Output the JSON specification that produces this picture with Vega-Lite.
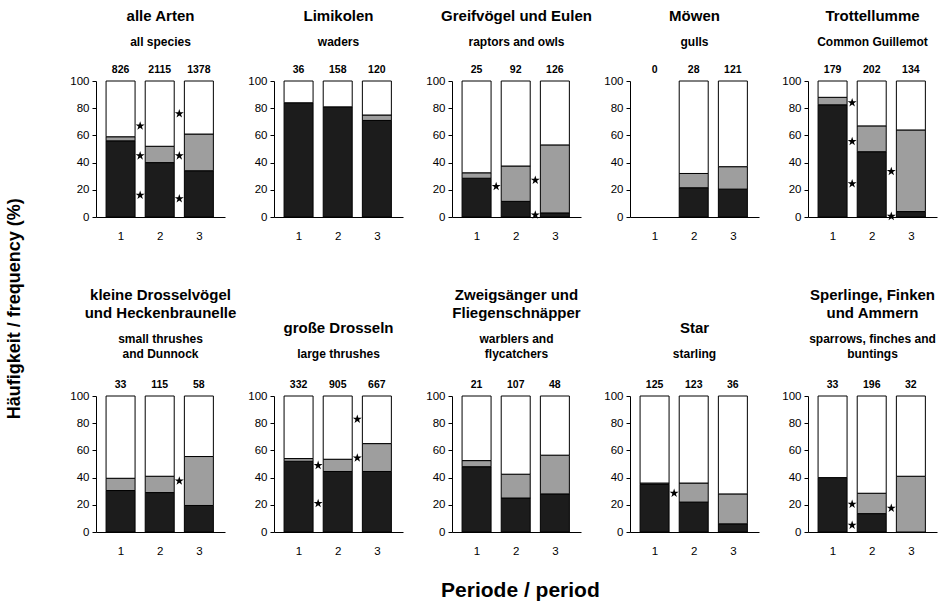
{
"$schema": "https://vega.github.io/schema/vega-lite/v6.json",
"background": "white",
"padding": {"left": 5, "top": 9, "right": 4, "bottom": 4},
"title": {"text": "Häufigkeit / frequency (%)", "orient": "left", "anchor": "middle", "frame": "bounds", "fontSize": 18, "fontWeight": "bold", "font": "Liberation Sans", "color": "black", "offset": 46, "dx": -4},
"datasets": {
"bars": [
{"panel":1,"period":1,"cat":"k1","pct":56},{"panel":1,"period":1,"cat":"k2","pct":3},{"panel":1,"period":1,"cat":"k3","pct":41},
{"panel":1,"period":2,"cat":"k1","pct":40},{"panel":1,"period":2,"cat":"k2","pct":12},{"panel":1,"period":2,"cat":"k3","pct":48},
{"panel":1,"period":3,"cat":"k1","pct":34},{"panel":1,"period":3,"cat":"k2","pct":27},{"panel":1,"period":3,"cat":"k3","pct":39},
{"panel":2,"period":1,"cat":"k1","pct":84},{"panel":2,"period":1,"cat":"k3","pct":16},
{"panel":2,"period":2,"cat":"k1","pct":81},{"panel":2,"period":2,"cat":"k3","pct":19},
{"panel":2,"period":3,"cat":"k1","pct":71},{"panel":2,"period":3,"cat":"k2","pct":4},{"panel":2,"period":3,"cat":"k3","pct":25},
{"panel":3,"period":1,"cat":"k1","pct":28.5},{"panel":3,"period":1,"cat":"k2","pct":4},{"panel":3,"period":1,"cat":"k3","pct":67.5},
{"panel":3,"period":2,"cat":"k1","pct":11.5},{"panel":3,"period":2,"cat":"k2","pct":26},{"panel":3,"period":2,"cat":"k3","pct":62.5},
{"panel":3,"period":3,"cat":"k1","pct":3},{"panel":3,"period":3,"cat":"k2","pct":50},{"panel":3,"period":3,"cat":"k3","pct":47},
{"panel":4,"period":2,"cat":"k1","pct":21.5},{"panel":4,"period":2,"cat":"k2","pct":10.5},{"panel":4,"period":2,"cat":"k3","pct":68},
{"panel":4,"period":3,"cat":"k1","pct":20.5},{"panel":4,"period":3,"cat":"k2","pct":16.5},{"panel":4,"period":3,"cat":"k3","pct":63},
{"panel":5,"period":1,"cat":"k1","pct":82.5},{"panel":5,"period":1,"cat":"k2","pct":5.5},{"panel":5,"period":1,"cat":"k3","pct":12},
{"panel":5,"period":2,"cat":"k1","pct":48},{"panel":5,"period":2,"cat":"k2","pct":19},{"panel":5,"period":2,"cat":"k3","pct":33},
{"panel":5,"period":3,"cat":"k1","pct":4},{"panel":5,"period":3,"cat":"k2","pct":60},{"panel":5,"period":3,"cat":"k3","pct":36},
{"panel":6,"period":1,"cat":"k1","pct":30.5},{"panel":6,"period":1,"cat":"k2","pct":9},{"panel":6,"period":1,"cat":"k3","pct":60.5},
{"panel":6,"period":2,"cat":"k1","pct":29},{"panel":6,"period":2,"cat":"k2","pct":12},{"panel":6,"period":2,"cat":"k3","pct":59},
{"panel":6,"period":3,"cat":"k1","pct":19.5},{"panel":6,"period":3,"cat":"k2","pct":36},{"panel":6,"period":3,"cat":"k3","pct":44.5},
{"panel":7,"period":1,"cat":"k1","pct":52},{"panel":7,"period":1,"cat":"k2","pct":2},{"panel":7,"period":1,"cat":"k3","pct":46},
{"panel":7,"period":2,"cat":"k1","pct":44.5},{"panel":7,"period":2,"cat":"k2","pct":9},{"panel":7,"period":2,"cat":"k3","pct":46.5},
{"panel":7,"period":3,"cat":"k1","pct":44.5},{"panel":7,"period":3,"cat":"k2","pct":20.5},{"panel":7,"period":3,"cat":"k3","pct":35},
{"panel":8,"period":1,"cat":"k1","pct":48},{"panel":8,"period":1,"cat":"k2","pct":4.5},{"panel":8,"period":1,"cat":"k3","pct":47.5},
{"panel":8,"period":2,"cat":"k1","pct":25},{"panel":8,"period":2,"cat":"k2","pct":17.5},{"panel":8,"period":2,"cat":"k3","pct":57.5},
{"panel":8,"period":3,"cat":"k1","pct":28},{"panel":8,"period":3,"cat":"k2","pct":28.5},{"panel":8,"period":3,"cat":"k3","pct":43.5},
{"panel":9,"period":1,"cat":"k1","pct":35},{"panel":9,"period":1,"cat":"k2","pct":1},{"panel":9,"period":1,"cat":"k3","pct":64},
{"panel":9,"period":2,"cat":"k1","pct":22},{"panel":9,"period":2,"cat":"k2","pct":14},{"panel":9,"period":2,"cat":"k3","pct":64},
{"panel":9,"period":3,"cat":"k1","pct":6},{"panel":9,"period":3,"cat":"k2","pct":22},{"panel":9,"period":3,"cat":"k3","pct":72},
{"panel":10,"period":1,"cat":"k1","pct":40},{"panel":10,"period":1,"cat":"k3","pct":60},
{"panel":10,"period":2,"cat":"k1","pct":13.5},{"panel":10,"period":2,"cat":"k2","pct":15},{"panel":10,"period":2,"cat":"k3","pct":71.5},
{"panel":10,"period":3,"cat":"k2","pct":41},{"panel":10,"period":3,"cat":"k3","pct":59}
],
"counts": [
{"panel":1,"period":1,"n":"826"},{"panel":1,"period":2,"n":"2115"},{"panel":1,"period":3,"n":"1378"},
{"panel":2,"period":1,"n":"36"},{"panel":2,"period":2,"n":"158"},{"panel":2,"period":3,"n":"120"},
{"panel":3,"period":1,"n":"25"},{"panel":3,"period":2,"n":"92"},{"panel":3,"period":3,"n":"126"},
{"panel":4,"period":1,"n":"0"},{"panel":4,"period":2,"n":"28"},{"panel":4,"period":3,"n":"121"},
{"panel":5,"period":1,"n":"179"},{"panel":5,"period":2,"n":"202"},{"panel":5,"period":3,"n":"134"},
{"panel":6,"period":1,"n":"33"},{"panel":6,"period":2,"n":"115"},{"panel":6,"period":3,"n":"58"},
{"panel":7,"period":1,"n":"332"},{"panel":7,"period":2,"n":"905"},{"panel":7,"period":3,"n":"667"},
{"panel":8,"period":1,"n":"21"},{"panel":8,"period":2,"n":"107"},{"panel":8,"period":3,"n":"48"},
{"panel":9,"period":1,"n":"125"},{"panel":9,"period":2,"n":"123"},{"panel":9,"period":3,"n":"36"},
{"panel":10,"period":1,"n":"33"},{"panel":10,"period":2,"n":"196"},{"panel":10,"period":3,"n":"32"}
],
"stars": [
{"panel":1,"period":1.5,"pct":67},{"panel":1,"period":1.5,"pct":45},{"panel":1,"period":1.5,"pct":16},
{"panel":1,"period":2.5,"pct":76},{"panel":1,"period":2.5,"pct":45},{"panel":1,"period":2.5,"pct":13.5},
{"panel":3,"period":1.5,"pct":22.5},{"panel":3,"period":2.5,"pct":27},{"panel":3,"period":2.5,"pct":1.5},
{"panel":5,"period":1.5,"pct":84},{"panel":5,"period":1.5,"pct":55.5},{"panel":5,"period":1.5,"pct":24.5},
{"panel":5,"period":2.5,"pct":33.5},{"panel":5,"period":2.5,"pct":0.5},
{"panel":6,"period":2.5,"pct":37.5},
{"panel":7,"period":1.5,"pct":49},{"panel":7,"period":1.5,"pct":21},{"panel":7,"period":2.5,"pct":83},{"panel":7,"period":2.5,"pct":54.5},
{"panel":9,"period":1.5,"pct":28.5},
{"panel":10,"period":1.5,"pct":20.5},{"panel":10,"period":1.5,"pct":5},{"panel":10,"period":2.5,"pct":17.5}
]
},
"vconcat": [
{
"title": {"text": "Periode / period", "orient": "bottom", "anchor": "middle", "frame": "bounds", "fontSize": 21, "fontWeight": "bold", "font": "Liberation Sans", "color": "black", "offset": 23, "dx": 17},
"bounds": "flush",
"spacing": 315,
"vconcat": [
{"hconcat": [
{"width":129,"height":136,"title":{"text":"alle Arten","subtitle":"all species","offset":17},"layer":[
{"data":{"name":"bars"},"transform":[{"filter":"datum.panel == 1"}],"mark":{"type":"bar","width":29,"stroke":"black","strokeWidth":1},"encoding":{"x":{"field":"period","type":"quantitative","title":null,"scale":{"domain":[0.5,3.54],"nice":false,"zero":false},"axis":{"values":[1,2,3],"ticks":false,"labelPadding":13,"format":"d"}},"y":{"field":"pct","type":"quantitative","title":null,"stack":"zero","scale":{"domain":[0,100],"nice":false},"axis":{"values":[0,20,40,60,80,100],"tickCount":6,"tickSize":4,"labelPadding":3,"labelOverlap":false}},"color":{"field":"cat","type":"nominal","scale":{"domain":["k1","k2","k3"],"range":["#1c1c1c","#9e9e9e","#ffffff"]},"legend":null},"order":{"field":"cat","type":"ordinal","sort":"ascending"}}},
{"data":{"name":"counts"},"transform":[{"filter":"datum.panel == 1"}],"mark":{"type":"text","font":"Liberation Sans","fontSize":10.5,"fontWeight":"bold","color":"black","baseline":"alphabetic","dy":-8},"encoding":{"x":{"field":"period","type":"quantitative","title":null},"y":{"datum":100,"type":"quantitative"},"text":{"field":"n","type":"nominal"}}},
{"data":{"name":"stars"},"transform":[{"filter":"datum.panel == 1"}],"mark":{"type":"point","shape":"M0,-1L0.2245,-0.309L0.951,-0.309L0.363,0.118L0.588,0.809L0,0.382L-0.588,0.809L-0.363,0.118L-0.951,-0.309L-0.2245,-0.309Z","filled":true,"color":"black","opacity":1,"size":90},"encoding":{"x":{"field":"period","type":"quantitative","title":null},"y":{"field":"pct","type":"quantitative","title":null}}}
]},
{"width":129,"height":136,"title":{"text":"Limikolen","subtitle":"waders","offset":17},"layer":[
{"data":{"name":"bars"},"transform":[{"filter":"datum.panel == 2"}],"mark":{"type":"bar","width":29,"stroke":"black","strokeWidth":1},"encoding":{"x":{"field":"period","type":"quantitative","title":null,"scale":{"domain":[0.5,3.54],"nice":false,"zero":false},"axis":{"values":[1,2,3],"ticks":false,"labelPadding":13,"format":"d"}},"y":{"field":"pct","type":"quantitative","title":null,"stack":"zero","scale":{"domain":[0,100],"nice":false},"axis":{"values":[0,20,40,60,80,100],"tickCount":6,"tickSize":4,"labelPadding":3,"labelOverlap":false}},"color":{"field":"cat","type":"nominal","scale":{"domain":["k1","k2","k3"],"range":["#1c1c1c","#9e9e9e","#ffffff"]},"legend":null},"order":{"field":"cat","type":"ordinal","sort":"ascending"}}},
{"data":{"name":"counts"},"transform":[{"filter":"datum.panel == 2"}],"mark":{"type":"text","font":"Liberation Sans","fontSize":10.5,"fontWeight":"bold","color":"black","baseline":"alphabetic","dy":-8},"encoding":{"x":{"field":"period","type":"quantitative","title":null},"y":{"datum":100,"type":"quantitative"},"text":{"field":"n","type":"nominal"}}}
]},
{"width":129,"height":136,"title":{"text":"Greifvögel und Eulen","subtitle":"raptors and owls","offset":17},"layer":[
{"data":{"name":"bars"},"transform":[{"filter":"datum.panel == 3"}],"mark":{"type":"bar","width":29,"stroke":"black","strokeWidth":1},"encoding":{"x":{"field":"period","type":"quantitative","title":null,"scale":{"domain":[0.5,3.54],"nice":false,"zero":false},"axis":{"values":[1,2,3],"ticks":false,"labelPadding":13,"format":"d"}},"y":{"field":"pct","type":"quantitative","title":null,"stack":"zero","scale":{"domain":[0,100],"nice":false},"axis":{"values":[0,20,40,60,80,100],"tickCount":6,"tickSize":4,"labelPadding":3,"labelOverlap":false}},"color":{"field":"cat","type":"nominal","scale":{"domain":["k1","k2","k3"],"range":["#1c1c1c","#9e9e9e","#ffffff"]},"legend":null},"order":{"field":"cat","type":"ordinal","sort":"ascending"}}},
{"data":{"name":"counts"},"transform":[{"filter":"datum.panel == 3"}],"mark":{"type":"text","font":"Liberation Sans","fontSize":10.5,"fontWeight":"bold","color":"black","baseline":"alphabetic","dy":-8},"encoding":{"x":{"field":"period","type":"quantitative","title":null},"y":{"datum":100,"type":"quantitative"},"text":{"field":"n","type":"nominal"}}},
{"data":{"name":"stars"},"transform":[{"filter":"datum.panel == 3"}],"mark":{"type":"point","shape":"M0,-1L0.2245,-0.309L0.951,-0.309L0.363,0.118L0.588,0.809L0,0.382L-0.588,0.809L-0.363,0.118L-0.951,-0.309L-0.2245,-0.309Z","filled":true,"color":"black","opacity":1,"size":90},"encoding":{"x":{"field":"period","type":"quantitative","title":null},"y":{"field":"pct","type":"quantitative","title":null}}}
]},
{"width":129,"height":136,"title":{"text":"Möwen","subtitle":"gulls","offset":17},"layer":[
{"data":{"name":"bars"},"transform":[{"filter":"datum.panel == 4"}],"mark":{"type":"bar","width":29,"stroke":"black","strokeWidth":1},"encoding":{"x":{"field":"period","type":"quantitative","title":null,"scale":{"domain":[0.5,3.54],"nice":false,"zero":false},"axis":{"values":[1,2,3],"ticks":false,"labelPadding":13,"format":"d"}},"y":{"field":"pct","type":"quantitative","title":null,"stack":"zero","scale":{"domain":[0,100],"nice":false},"axis":{"values":[0,20,40,60,80,100],"tickCount":6,"tickSize":4,"labelPadding":3,"labelOverlap":false}},"color":{"field":"cat","type":"nominal","scale":{"domain":["k1","k2","k3"],"range":["#1c1c1c","#9e9e9e","#ffffff"]},"legend":null},"order":{"field":"cat","type":"ordinal","sort":"ascending"}}},
{"data":{"name":"counts"},"transform":[{"filter":"datum.panel == 4"}],"mark":{"type":"text","font":"Liberation Sans","fontSize":10.5,"fontWeight":"bold","color":"black","baseline":"alphabetic","dy":-8},"encoding":{"x":{"field":"period","type":"quantitative","title":null},"y":{"datum":100,"type":"quantitative"},"text":{"field":"n","type":"nominal"}}}
]},
{"width":129,"height":136,"title":{"text":"Trottellumme","subtitle":"Common Guillemot","offset":17},"layer":[
{"data":{"name":"bars"},"transform":[{"filter":"datum.panel == 5"}],"mark":{"type":"bar","width":29,"stroke":"black","strokeWidth":1},"encoding":{"x":{"field":"period","type":"quantitative","title":null,"scale":{"domain":[0.5,3.54],"nice":false,"zero":false},"axis":{"values":[1,2,3],"ticks":false,"labelPadding":13,"format":"d"}},"y":{"field":"pct","type":"quantitative","title":null,"stack":"zero","scale":{"domain":[0,100],"nice":false},"axis":{"values":[0,20,40,60,80,100],"tickCount":6,"tickSize":4,"labelPadding":3,"labelOverlap":false}},"color":{"field":"cat","type":"nominal","scale":{"domain":["k1","k2","k3"],"range":["#1c1c1c","#9e9e9e","#ffffff"]},"legend":null},"order":{"field":"cat","type":"ordinal","sort":"ascending"}}},
{"data":{"name":"counts"},"transform":[{"filter":"datum.panel == 5"}],"mark":{"type":"text","font":"Liberation Sans","fontSize":10.5,"fontWeight":"bold","color":"black","baseline":"alphabetic","dy":-8},"encoding":{"x":{"field":"period","type":"quantitative","title":null},"y":{"datum":100,"type":"quantitative"},"text":{"field":"n","type":"nominal"}}},
{"data":{"name":"stars"},"transform":[{"filter":"datum.panel == 5"}],"mark":{"type":"point","shape":"M0,-1L0.2245,-0.309L0.951,-0.309L0.363,0.118L0.588,0.809L0,0.382L-0.588,0.809L-0.363,0.118L-0.951,-0.309L-0.2245,-0.309Z","filled":true,"color":"black","opacity":1,"size":90},"encoding":{"x":{"field":"period","type":"quantitative","title":null},"y":{"field":"pct","type":"quantitative","title":null}}}
]}
], "spacing": 49, "bounds": "flush"},
{"hconcat": [
{"width":129,"height":136,"title":{"text":["kleine Drosselvögel","und Heckenbraunelle"],"subtitle":["small thrushes","and Dunnock"],"offset":20},"layer":[
{"data":{"name":"bars"},"transform":[{"filter":"datum.panel == 6"}],"mark":{"type":"bar","width":29,"stroke":"black","strokeWidth":1},"encoding":{"x":{"field":"period","type":"quantitative","title":null,"scale":{"domain":[0.5,3.54],"nice":false,"zero":false},"axis":{"values":[1,2,3],"ticks":false,"labelPadding":13,"format":"d"}},"y":{"field":"pct","type":"quantitative","title":null,"stack":"zero","scale":{"domain":[0,100],"nice":false},"axis":{"values":[0,20,40,60,80,100],"tickCount":6,"tickSize":4,"labelPadding":3,"labelOverlap":false}},"color":{"field":"cat","type":"nominal","scale":{"domain":["k1","k2","k3"],"range":["#1c1c1c","#9e9e9e","#ffffff"]},"legend":null},"order":{"field":"cat","type":"ordinal","sort":"ascending"}}},
{"data":{"name":"counts"},"transform":[{"filter":"datum.panel == 6"}],"mark":{"type":"text","font":"Liberation Sans","fontSize":10.5,"fontWeight":"bold","color":"black","baseline":"alphabetic","dy":-8},"encoding":{"x":{"field":"period","type":"quantitative","title":null},"y":{"datum":100,"type":"quantitative"},"text":{"field":"n","type":"nominal"}}},
{"data":{"name":"stars"},"transform":[{"filter":"datum.panel == 6"}],"mark":{"type":"point","shape":"M0,-1L0.2245,-0.309L0.951,-0.309L0.363,0.118L0.588,0.809L0,0.382L-0.588,0.809L-0.363,0.118L-0.951,-0.309L-0.2245,-0.309Z","filled":true,"color":"black","opacity":1,"size":90},"encoding":{"x":{"field":"period","type":"quantitative","title":null},"y":{"field":"pct","type":"quantitative","title":null}}}
]},
{"width":129,"height":136,"title":{"text":"große Drosseln","subtitle":"large thrushes","offset":20},"layer":[
{"data":{"name":"bars"},"transform":[{"filter":"datum.panel == 7"}],"mark":{"type":"bar","width":29,"stroke":"black","strokeWidth":1},"encoding":{"x":{"field":"period","type":"quantitative","title":null,"scale":{"domain":[0.5,3.54],"nice":false,"zero":false},"axis":{"values":[1,2,3],"ticks":false,"labelPadding":13,"format":"d"}},"y":{"field":"pct","type":"quantitative","title":null,"stack":"zero","scale":{"domain":[0,100],"nice":false},"axis":{"values":[0,20,40,60,80,100],"tickCount":6,"tickSize":4,"labelPadding":3,"labelOverlap":false}},"color":{"field":"cat","type":"nominal","scale":{"domain":["k1","k2","k3"],"range":["#1c1c1c","#9e9e9e","#ffffff"]},"legend":null},"order":{"field":"cat","type":"ordinal","sort":"ascending"}}},
{"data":{"name":"counts"},"transform":[{"filter":"datum.panel == 7"}],"mark":{"type":"text","font":"Liberation Sans","fontSize":10.5,"fontWeight":"bold","color":"black","baseline":"alphabetic","dy":-8},"encoding":{"x":{"field":"period","type":"quantitative","title":null},"y":{"datum":100,"type":"quantitative"},"text":{"field":"n","type":"nominal"}}},
{"data":{"name":"stars"},"transform":[{"filter":"datum.panel == 7"}],"mark":{"type":"point","shape":"M0,-1L0.2245,-0.309L0.951,-0.309L0.363,0.118L0.588,0.809L0,0.382L-0.588,0.809L-0.363,0.118L-0.951,-0.309L-0.2245,-0.309Z","filled":true,"color":"black","opacity":1,"size":90},"encoding":{"x":{"field":"period","type":"quantitative","title":null},"y":{"field":"pct","type":"quantitative","title":null}}}
]},
{"width":129,"height":136,"title":{"text":["Zweigsänger und","Fliegenschnäpper"],"subtitle":["warblers and","flycatchers"],"offset":20},"layer":[
{"data":{"name":"bars"},"transform":[{"filter":"datum.panel == 8"}],"mark":{"type":"bar","width":29,"stroke":"black","strokeWidth":1},"encoding":{"x":{"field":"period","type":"quantitative","title":null,"scale":{"domain":[0.5,3.54],"nice":false,"zero":false},"axis":{"values":[1,2,3],"ticks":false,"labelPadding":13,"format":"d"}},"y":{"field":"pct","type":"quantitative","title":null,"stack":"zero","scale":{"domain":[0,100],"nice":false},"axis":{"values":[0,20,40,60,80,100],"tickCount":6,"tickSize":4,"labelPadding":3,"labelOverlap":false}},"color":{"field":"cat","type":"nominal","scale":{"domain":["k1","k2","k3"],"range":["#1c1c1c","#9e9e9e","#ffffff"]},"legend":null},"order":{"field":"cat","type":"ordinal","sort":"ascending"}}},
{"data":{"name":"counts"},"transform":[{"filter":"datum.panel == 8"}],"mark":{"type":"text","font":"Liberation Sans","fontSize":10.5,"fontWeight":"bold","color":"black","baseline":"alphabetic","dy":-8},"encoding":{"x":{"field":"period","type":"quantitative","title":null},"y":{"datum":100,"type":"quantitative"},"text":{"field":"n","type":"nominal"}}}
]},
{"width":129,"height":136,"title":{"text":"Star","subtitle":"starling","offset":20},"layer":[
{"data":{"name":"bars"},"transform":[{"filter":"datum.panel == 9"}],"mark":{"type":"bar","width":29,"stroke":"black","strokeWidth":1},"encoding":{"x":{"field":"period","type":"quantitative","title":null,"scale":{"domain":[0.5,3.54],"nice":false,"zero":false},"axis":{"values":[1,2,3],"ticks":false,"labelPadding":13,"format":"d"}},"y":{"field":"pct","type":"quantitative","title":null,"stack":"zero","scale":{"domain":[0,100],"nice":false},"axis":{"values":[0,20,40,60,80,100],"tickCount":6,"tickSize":4,"labelPadding":3,"labelOverlap":false}},"color":{"field":"cat","type":"nominal","scale":{"domain":["k1","k2","k3"],"range":["#1c1c1c","#9e9e9e","#ffffff"]},"legend":null},"order":{"field":"cat","type":"ordinal","sort":"ascending"}}},
{"data":{"name":"counts"},"transform":[{"filter":"datum.panel == 9"}],"mark":{"type":"text","font":"Liberation Sans","fontSize":10.5,"fontWeight":"bold","color":"black","baseline":"alphabetic","dy":-8},"encoding":{"x":{"field":"period","type":"quantitative","title":null},"y":{"datum":100,"type":"quantitative"},"text":{"field":"n","type":"nominal"}}},
{"data":{"name":"stars"},"transform":[{"filter":"datum.panel == 9"}],"mark":{"type":"point","shape":"M0,-1L0.2245,-0.309L0.951,-0.309L0.363,0.118L0.588,0.809L0,0.382L-0.588,0.809L-0.363,0.118L-0.951,-0.309L-0.2245,-0.309Z","filled":true,"color":"black","opacity":1,"size":90},"encoding":{"x":{"field":"period","type":"quantitative","title":null},"y":{"field":"pct","type":"quantitative","title":null}}}
]},
{"width":129,"height":136,"title":{"text":["Sperlinge, Finken","und Ammern"],"subtitle":["sparrows, finches and","buntings"],"offset":20},"layer":[
{"data":{"name":"bars"},"transform":[{"filter":"datum.panel == 10"}],"mark":{"type":"bar","width":29,"stroke":"black","strokeWidth":1},"encoding":{"x":{"field":"period","type":"quantitative","title":null,"scale":{"domain":[0.5,3.54],"nice":false,"zero":false},"axis":{"values":[1,2,3],"ticks":false,"labelPadding":13,"format":"d"}},"y":{"field":"pct","type":"quantitative","title":null,"stack":"zero","scale":{"domain":[0,100],"nice":false},"axis":{"values":[0,20,40,60,80,100],"tickCount":6,"tickSize":4,"labelPadding":3,"labelOverlap":false}},"color":{"field":"cat","type":"nominal","scale":{"domain":["k1","k2","k3"],"range":["#1c1c1c","#9e9e9e","#ffffff"]},"legend":null},"order":{"field":"cat","type":"ordinal","sort":"ascending"}}},
{"data":{"name":"counts"},"transform":[{"filter":"datum.panel == 10"}],"mark":{"type":"text","font":"Liberation Sans","fontSize":10.5,"fontWeight":"bold","color":"black","baseline":"alphabetic","dy":-8},"encoding":{"x":{"field":"period","type":"quantitative","title":null},"y":{"datum":100,"type":"quantitative"},"text":{"field":"n","type":"nominal"}}},
{"data":{"name":"stars"},"transform":[{"filter":"datum.panel == 10"}],"mark":{"type":"point","shape":"M0,-1L0.2245,-0.309L0.951,-0.309L0.363,0.118L0.588,0.809L0,0.382L-0.588,0.809L-0.363,0.118L-0.951,-0.309L-0.2245,-0.309Z","filled":true,"color":"black","opacity":1,"size":90},"encoding":{"x":{"field":"period","type":"quantitative","title":null},"y":{"field":"pct","type":"quantitative","title":null}}}
]}
], "spacing": 49, "bounds": "flush"}
]
}
],
"config": {
"view": {"stroke": null},
"axis": {"grid": false, "labelFont": "Liberation Sans", "labelFontSize": 11.5, "labelColor": "black", "domainColor": "black", "tickColor": "black", "domainWidth": 1, "tickWidth": 1, "labelOverlap": false},
"title": {"font": "Liberation Sans", "fontSize": 15, "fontWeight": "bold", "color": "black", "subtitleFont": "Liberation Sans", "subtitleFontSize": 12, "subtitleFontWeight": "bold", "subtitleColor": "black", "anchor": "middle", "frame": "group", "offset": 16, "subtitlePadding": 13, "lineHeight": 18, "subtitleLineHeight": 15.5}
}
}
